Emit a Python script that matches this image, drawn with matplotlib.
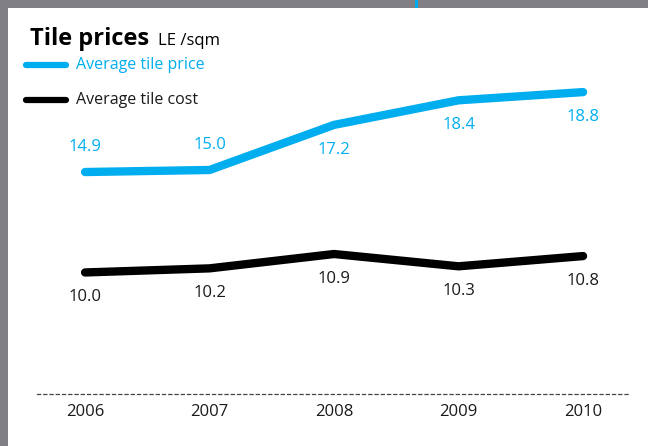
import matplotlib.pyplot as plt
from matplotlib.patches import Rectangle
from matplotlib.lines import Line2D

plt.rcParams['font.family'] = ['Open Sans', 'DejaVu Sans']

years = [2006, 2007, 2008, 2009, 2010]
price = [14.9, 15.0, 17.2, 18.4, 18.8]
cost = [10.0, 10.2, 10.9, 10.3, 10.8]

# label placement: +1 above the line, -1 below
price_side = [1, 1, -1, -1, -1]
cost_side = [-1, -1, -1, -1, -1]

blue = '#00aeef'
grey = '#808084'

W, H = 648, 446
fig = plt.figure(figsize=(W / 100, H / 100), dpi=100)

# axes placed in pixel terms: left 37, right 628, bottom at dashed line (y=394), top y=30
ax = fig.add_axes([37 / W, 52 / H, 591 / W, 364 / H])
ax.set_xlim(2005.614, 2010.361)
ax.set_ylim(4.07, 21.83)

ax.plot(years, price, color=blue, lw=6, solid_capstyle='round', solid_joinstyle='round')
ax.plot(years, cost, color='black', lw=6, solid_capstyle='round', solid_joinstyle='round')

for x, v, s in zip(years, price, price_side):
    ax.annotate(f'{v:.1f}', (x, v), xytext=(0, 18 * s), textcoords='offset points',
                ha='center', va='center', color=blue, fontsize=12)
for x, v, s in zip(years, cost, cost_side):
    ax.annotate(f'{v:.1f}', (x, v), xytext=(0, 18 * s), textcoords='offset points',
                ha='center', va='center', color='#1a1a1a', fontsize=12)

for sp in ['top', 'right', 'left']:
    ax.spines[sp].set_visible(False)
ax.spines['bottom'].set_linestyle((0, (2.5, 2.5)))
ax.spines['bottom'].set_linewidth(0.9)
ax.spines['bottom'].set_color('#444444')
ax.set_yticks([])
ax.set_xticks(years)
ax.set_xticklabels([str(y) for y in years], fontsize=12, color='#1a1a1a')
ax.tick_params(axis='x', length=0, pad=7)

# title and legend (figure pixel coords, top-left origin)
def fx(px):
    return px / W

def fy(py):
    return 1 - py / H

fig.text(fx(30), fy(45), 'Tile prices', fontsize=17, fontweight='bold', va='baseline')
fig.text(fx(158), fy(45), 'LE /sqm', fontsize=12, va='baseline')

fig.add_artist(Line2D([fx(26), fx(66)], [fy(65), fy(65)], color=blue, lw=4.5,
                      solid_capstyle='round'))
fig.text(fx(76), fy(65), 'Average tile price', color=blue, fontsize=11.5, va='center')
fig.add_artist(Line2D([fx(26), fx(66)], [fy(100), fy(100)], color='black', lw=4.5,
                      solid_capstyle='round'))
fig.text(fx(76), fy(100), 'Average tile cost', color='#1a1a1a', fontsize=11.5, va='center')

# grey page border on the left and top
fig.add_artist(Rectangle((0, 0), 8 / W, 1, color=grey, transform=fig.transFigure, lw=0))
fig.add_artist(Rectangle((0, 1 - 8 / H), 1, 8 / H, color=grey, transform=fig.transFigure, lw=0))
fig.add_artist(Rectangle((415 / W, 1 - 8 / H), 2.5 / W, 8 / H, color=blue,
                         transform=fig.transFigure, lw=0))

fig.savefig('out.png', dpi=100)
